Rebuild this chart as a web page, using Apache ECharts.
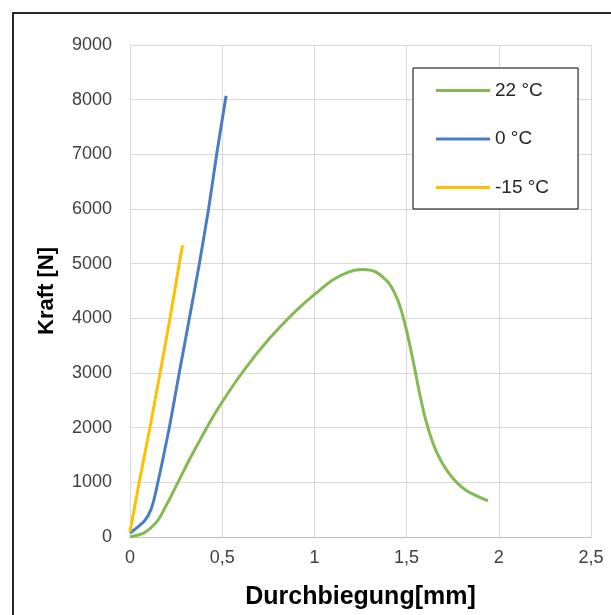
<!DOCTYPE html>
<html>
<head>
<meta charset="utf-8">
<script src="https://cdn.jsdelivr.net/npm/echarts@6/dist/echarts.min.js"></script>
<style>html,body{margin:0;padding:0;background:#fff}#c{width:611px;height:615px}</style>
</head>
<body>
<div id="c"></div>
<script>
const seriesNames = ['22 °C', '0 °C', '-15 °C'];
const xTickLabels = ['0', '0,5', '1', '1,5', '2', '2,5'];
const yTickLabels = ['0','1000','2000','3000','4000','5000','6000','7000','8000','9000'];

const x22 = [0, 0.078, 0.15, 0.2, 0.25, 0.3, 0.35, 0.4, 0.45, 0.5, 0.573, 0.663, 0.754, 0.83, 0.917, 1.007, 1.097, 1.188, 1.26, 1.332, 1.405, 1.459, 1.495, 1.531, 1.567, 1.604, 1.658, 1.73, 1.82, 1.941];
const y22 = [0, 80, 300, 600, 930, 1270, 1590, 1900, 2200, 2470, 2840, 3250, 3620, 3900, 4190, 4455, 4698, 4850, 4894, 4850, 4638, 4272, 3845, 3296, 2687, 2139, 1590, 1165, 859, 660];

const x0 = [0, 0.078, 0.114, 0.141, 0.213, 0.267, 0.322, 0.376, 0.426, 0.47, 0.521];
const y0 = [70, 292, 506, 841, 2000, 3000, 4000, 5000, 6000, 7000, 8070];

const xm15 = [0, 0.05, 0.108, 0.163, 0.217, 0.267, 0.285];
const ym15 = [97, 1000, 2000, 3000, 4000, 5000, 5335];

const colors = ['#84BA52', '#4A7EC4', '#FFC000'];

function pairs(xs, ys) { return xs.map((x, i) => [x, ys[i]]); }

const chart = echarts.init(document.getElementById('c'));
const font = 'Liberation Sans, Arial, sans-serif';
const labelStyle = { color: '#404040', fontSize: 18, fontFamily: font };
chart.setOption({
  animation: false,
  grid: { left: 130, right: 20, top: 45, bottom: 77, containLabel: false },
  xAxis: {
    type: 'value', min: 0, max: 2.5, interval: 0.5,
    name: 'Durchbiegung[mm]', nameLocation: 'middle', nameGap: 48,
    nameTextStyle: { color: '#000', fontSize: 25, fontWeight: 'bold', fontFamily: font },
    axisLine: { show: true, lineStyle: { color: '#BFBFBF', width: 1 } },
    axisTick: { show: false },
    axisLabel: { ...labelStyle, margin: 12, formatter: (v) => xTickLabels[Math.round(v / 0.5)] },
    splitLine: { show: true, lineStyle: { color: '#D9D9D9', width: 1 } }
  },
  yAxis: {
    type: 'value', min: 0, max: 9000, interval: 1000,
    name: 'Kraft [N]', nameLocation: 'middle', nameGap: 72,
    nameTextStyle: { color: '#000', fontSize: 22, fontWeight: 'bold', fontFamily: font },
    axisLine: { show: true, lineStyle: { color: '#D9D9D9', width: 1 } },
    axisTick: { show: false },
    axisLabel: { ...labelStyle, margin: 18, formatter: (v) => yTickLabels[Math.round(v / 1000)] },
    splitLine: { show: true, lineStyle: { color: '#D9D9D9', width: 1 } }
  },
  legend: {
    left: 413, top: 68, orient: 'vertical',
    data: seriesNames,
    icon: 'rect', itemWidth: 54, itemHeight: 3, itemGap: 29.5,
    padding: [13, 29, 12, 23],
    borderColor: '#000', borderWidth: 1, backgroundColor: '#fff',
    textStyle: { color: '#262626', fontSize: 19, fontFamily: font }
  },
  graphic: [{
    type: 'rect', shape: { x: 13, y: 13, width: 640, height: 640 },
    style: { fill: 'none', stroke: '#262626', lineWidth: 2 }, silent: true, z: 100
  }],
  series: [
    { name: seriesNames[0], type: 'line', data: pairs(x22, y22), smooth: 0.25, showSymbol: false, lineStyle: { color: colors[0], width: 3 }, itemStyle: { color: colors[0] } },
    { name: seriesNames[1], type: 'line', data: pairs(x0, y0), smooth: 0.25, showSymbol: false, lineStyle: { color: colors[1], width: 3 }, itemStyle: { color: colors[1] } },
    { name: seriesNames[2], type: 'line', data: pairs(xm15, ym15), smooth: 0.25, showSymbol: false, lineStyle: { color: colors[2], width: 3 }, itemStyle: { color: colors[2] } }
  ]
});
</script>
</body>
</html>
